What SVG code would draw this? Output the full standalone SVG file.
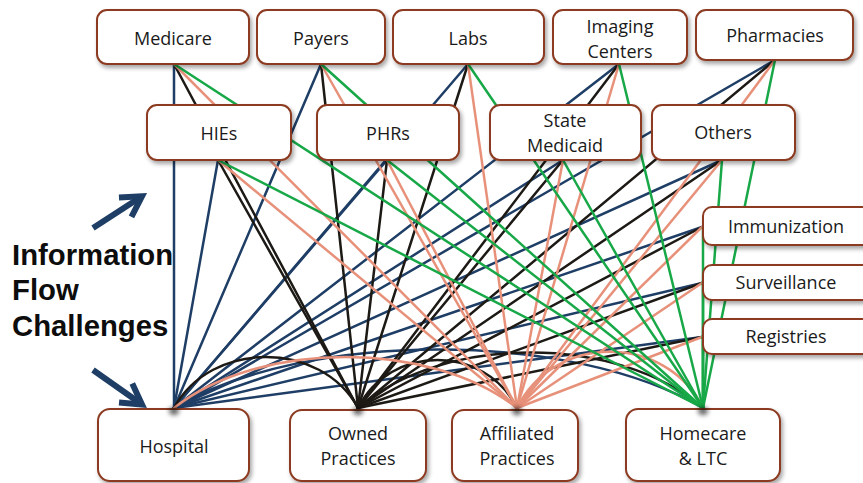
<svg xmlns="http://www.w3.org/2000/svg" width="863" height="483" viewBox="0 0 863 483">
  <defs>
    <style>
      .box { fill: #ffffff; stroke: #8c3b20; stroke-width: 2; filter: url(#shadow); }
      .lbl { font-family: "Open Sans", "Noto Sans", sans-serif; font-size: 18px; fill: #1a1a1a; text-anchor: middle; }
      .title { font-family: "Liberation Sans", Arial, sans-serif; font-weight: bold; font-size: 29.3px; fill: #0d0d0d; }
      .hosp { stroke: #1f3e66; }
      .owned { stroke: #1d1a16; }
      .affil { stroke: #e8917a; }
      .home { stroke: #18a848; }
      .spot { fill: #000000; opacity: 0.65; filter: url(#blur); }
      .big-arrow { fill: none; stroke: #1f3e66; stroke-width: 6; marker-end: url(#head); }
    </style>
    <filter id="shadow" x="-10%" y="-15%" width="130%" height="150%">
      <feDropShadow dx="2" dy="3" stdDeviation="2.2" flood-color="#000000" flood-opacity="0.35"/>
    </filter>
    <filter id="blur" x="-100%" y="-100%" width="300%" height="300%">
      <feGaussianBlur stdDeviation="2.5"/>
    </filter>
    <marker id="head" markerUnits="userSpaceOnUse" orient="auto" viewBox="-30 -15 36 30" markerWidth="36" markerHeight="30" refX="0" refY="0" overflow="visible">
      <path d="M-20,-11.5 L0,0 L-20,11.5" fill="none" stroke="#1f3e66" stroke-width="6" stroke-linejoin="miter"/>
    </marker>
  </defs>

  <!-- connectors: every care setting at the bottom links to every data source -->
  <g id="connectors" fill="none" stroke-width="2.5" stroke-linecap="round">
    <g id="hospital-links" class="hosp">
      <line x1="174" y1="408" x2="174" y2="64"/>
      <line x1="174" y1="408" x2="321" y2="64"/>
      <line x1="174" y1="408" x2="468" y2="64"/>
      <line x1="174" y1="408" x2="619" y2="64"/>
      <line x1="174" y1="408" x2="775" y2="60"/>
      <line x1="174" y1="408" x2="218" y2="160"/>
      <line x1="174" y1="408" x2="387" y2="160"/>
      <line x1="174" y1="408" x2="563" y2="160"/>
      <line x1="174" y1="408" x2="722" y2="160"/>
      <line x1="174" y1="408" x2="702" y2="227"/>
      <line x1="174" y1="408" x2="702" y2="283"/>
      <line x1="174" y1="408" x2="702" y2="337"/>
      <path d="M174,408 C306,330 571,330 703,408"/>
    </g>
    <g id="owned-links" class="owned">
      <line x1="358" y1="408" x2="174" y2="64"/>
      <line x1="358" y1="408" x2="321" y2="64"/>
      <line x1="358" y1="408" x2="468" y2="64"/>
      <line x1="358" y1="408" x2="619" y2="64"/>
      <line x1="358" y1="408" x2="775" y2="60"/>
      <line x1="358" y1="408" x2="218" y2="160"/>
      <line x1="358" y1="408" x2="387" y2="160"/>
      <line x1="358" y1="408" x2="563" y2="160"/>
      <line x1="358" y1="408" x2="722" y2="160"/>
      <line x1="358" y1="408" x2="702" y2="227"/>
      <line x1="358" y1="408" x2="702" y2="283"/>
      <line x1="358" y1="408" x2="702" y2="337"/>
      <path d="M358,408 C321,340 211,340 174,408"/>
      <path d="M358,408 C390,344 485,344 517,408"/>
      <path d="M358,408 C444,334 617,334 703,408"/>
    </g>
    <g id="affiliated-links" class="affil">
      <line x1="517" y1="408" x2="174" y2="64"/>
      <line x1="517" y1="408" x2="321" y2="64"/>
      <line x1="517" y1="408" x2="468" y2="64"/>
      <line x1="517" y1="408" x2="619" y2="64"/>
      <line x1="517" y1="408" x2="775" y2="60"/>
      <line x1="517" y1="408" x2="218" y2="160"/>
      <line x1="517" y1="408" x2="387" y2="160"/>
      <line x1="517" y1="408" x2="563" y2="160"/>
      <line x1="517" y1="408" x2="722" y2="160"/>
      <line x1="517" y1="408" x2="702" y2="227"/>
      <line x1="517" y1="408" x2="702" y2="283"/>
      <line x1="517" y1="408" x2="702" y2="337"/>
      <path d="M517,408 C431,340 260,340 174,408"/>
      <path d="M517,408 C554,333 666,333 703,408"/>
    </g>
    <g id="homecare-links" class="home">
      <line x1="703" y1="408" x2="174" y2="64"/>
      <line x1="703" y1="408" x2="321" y2="64"/>
      <line x1="703" y1="408" x2="468" y2="64"/>
      <line x1="703" y1="408" x2="619" y2="64"/>
      <line x1="703" y1="408" x2="775" y2="60"/>
      <line x1="703" y1="408" x2="218" y2="160"/>
      <line x1="703" y1="408" x2="387" y2="160"/>
      <line x1="703" y1="408" x2="563" y2="160"/>
      <line x1="703" y1="408" x2="722" y2="160"/>
      <line x1="703" y1="408" x2="703" y2="227"/>
      <line x1="703" y1="408" x2="703" y2="283"/>
      <line x1="703" y1="408" x2="703" y2="337"/>
    </g>
  </g>

  <!-- top row -->
  <g id="medicare"><rect class="box" x="97" y="10" width="152" height="54" rx="10"/><text class="lbl" x="173" y="45">Medicare</text></g>
  <g id="payers"><rect class="box" x="257" y="10" width="128" height="54" rx="10"/><text class="lbl" x="321" y="45">Payers</text></g>
  <g id="labs"><rect class="box" x="393" y="10" width="151" height="54" rx="10"/><text class="lbl" x="468" y="45">Labs</text></g>
  <g id="imaging-centers"><rect class="box" x="553" y="10" width="134" height="54" rx="10"/><text class="lbl" x="620" y="33">Imaging</text><text class="lbl" x="620" y="58">Centers</text></g>
  <g id="pharmacies"><rect class="box" x="696" y="10" width="157" height="50" rx="10"/><text class="lbl" x="775" y="42">Pharmacies</text></g>

  <!-- middle row -->
  <g id="hies"><rect class="box" x="147" y="105" width="144" height="55" rx="10"/><text class="lbl" x="219" y="140">HIEs</text></g>
  <g id="phrs"><rect class="box" x="317" y="105" width="142" height="55" rx="10"/><text class="lbl" x="388" y="140">PHRs</text></g>
  <g id="state-medicaid"><rect class="box" x="490" y="105" width="151" height="55" rx="10"/><text class="lbl" x="565" y="127">State</text><text class="lbl" x="565" y="152">Medicaid</text></g>
  <g id="others"><rect class="box" x="652" y="105" width="143" height="55" rx="10"/><text class="lbl" x="723" y="139">Others</text></g>

  <!-- public health registries on the right -->
  <g id="immunization"><rect class="box" x="703" y="207" width="172" height="38" rx="9"/><text class="lbl" x="786" y="233">Immunization</text></g>
  <g id="surveillance"><rect class="box" x="703" y="265" width="172" height="35" rx="9"/><text class="lbl" x="786" y="289">Surveillance</text></g>
  <g id="registries"><rect class="box" x="703" y="319" width="172" height="35" rx="9"/><text class="lbl" x="786" y="343">Registries</text></g>

  <!-- care settings -->
  <g id="hospital"><rect class="box" x="98" y="409" width="151" height="72" rx="12"/><ellipse class="spot" cx="174" cy="411" rx="5" ry="4"/><text class="lbl" x="174" y="453">Hospital</text></g>
  <g id="owned-practices"><rect class="box" x="290" y="410" width="136" height="71" rx="12"/><ellipse class="spot" cx="358" cy="411" rx="5" ry="4"/><text class="lbl" x="358" y="440">Owned</text><text class="lbl" x="358" y="465">Practices</text></g>
  <g id="affiliated-practices"><rect class="box" x="452" y="410" width="126" height="71" rx="12"/><ellipse class="spot" cx="517" cy="411" rx="5" ry="4"/><text class="lbl" x="517" y="440">Affiliated</text><text class="lbl" x="517" y="465">Practices</text></g>
  <g id="homecare-ltc"><rect class="box" x="626" y="409" width="154" height="72" rx="12"/><ellipse class="spot" cx="703" cy="411" rx="5" ry="4"/><text class="lbl" x="703" y="440">Homecare</text><text class="lbl" x="703" y="465">&amp; LTC</text></g>

  <!-- side caption with pointers -->
  <g id="caption">
    <text class="title" x="12" y="265">Information</text>
    <text class="title" x="12" y="300">Flow</text>
    <text class="title" x="12" y="336">Challenges</text>
    <path class="big-arrow" d="M93,228 L142,196.3"/>
    <path class="big-arrow" d="M93,370 L142,404.5"/>
  </g>
</svg>
